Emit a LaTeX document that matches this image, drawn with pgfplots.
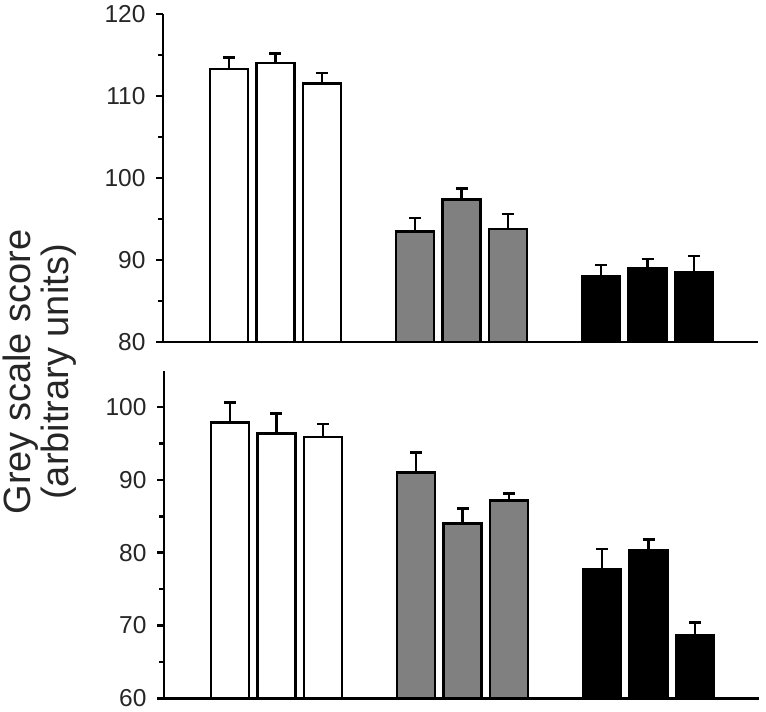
\documentclass[border=0pt]{standalone}
\usepackage{pgfplots}
\pgfplotsset{compat=1.18}
\usepackage{fontspec}
\setmainfont{Liberation Sans}
\definecolor{txt}{HTML}{262626}
\definecolor{midgrey}{HTML}{808080}
\pgfplotsset{
  panel/.style={
    scale only axis,
    width=595pt,
    xmin=-0.419, xmax=12.376,
    axis lines=left,
    axis line style={-, line width=2.6pt, draw=black},
    x axis line style={shorten <=-6pt},
    xtick=\empty,
    tick align=outside,
    ytick pos=left,
    minor y tick num=1,
    major tick length=7pt,
    minor tick length=5pt,
    every tick/.style={line width=2.6pt, draw=black},
    every major tick/.style={line width=2.6pt, draw=black},
    every minor tick/.style={line width=2.6pt, draw=black},
    yticklabel style={font=\fontsize{24.5}{28}\selectfont, text=txt, xshift=-7pt},
    /pgf/number format/assume math mode=true,
    ybar, bar shift=0pt, bar width=0.817,
    error bars/y dir=plus, error bars/y explicit,
    error bars/error bar style={line width=2.6pt, black},
    error bars/error mark options={rotate=90, mark size=6pt, line width=2.6pt, black},
  },
  barstyle/.style={draw=black, line width=2.6pt, fill=#1},
}
\begin{document}
\begin{tikzpicture}
\useasboundingbox (0pt,0pt) rectangle (766pt,712pt);
% top panel
\begin{axis}[panel, at={(163pt,370pt)}, anchor=south west, height=328pt,
  ymin=80, ymax=120, ytick={80,90,100,110,120}]
\addplot[barstyle=white] coordinates {(1,113.3) +- (0,1.4) (2,114.0) +- (0,1.2) (3,111.5) +- (0,1.3)};
\addplot[barstyle=midgrey] coordinates {(5,93.5) +- (0,1.6) (6,97.4) +- (0,1.3) (7,93.8) +- (0,1.8)};
\addplot[barstyle=black] coordinates {(9,88.0) +- (0,1.4) (10,89.0) +- (0,1.1) (11,88.5) +- (0,2.0)};
\end{axis}
% bottom panel
\begin{axis}[panel, at={(164pt,13.7pt)}, anchor=south west, height=327.6pt,
  ymin=60, ymax=105, ytick={60,70,80,90,100}]
\addplot[barstyle=white] coordinates {(1,97.9) +- (0,2.7) (2,96.35) +- (0,2.75) (3,95.9) +- (0,1.8)};
\addplot[barstyle=midgrey] coordinates {(5,91.0) +- (0,2.8) (6,84.0) +- (0,2.1) (7,87.2) +- (0,0.9)};
\addplot[barstyle=black] coordinates {(9,77.7) +- (0,2.8) (10,80.3) +- (0,1.55) (11,68.6) +- (0,1.8)};
\end{axis}
\node[rotate=90, align=center, text=txt, font=\fontsize{38}{38}\selectfont, anchor=center]
  at (40pt,340pt) {Grey scale score\\(arbitrary units)};
\end{tikzpicture}
\end{document}
